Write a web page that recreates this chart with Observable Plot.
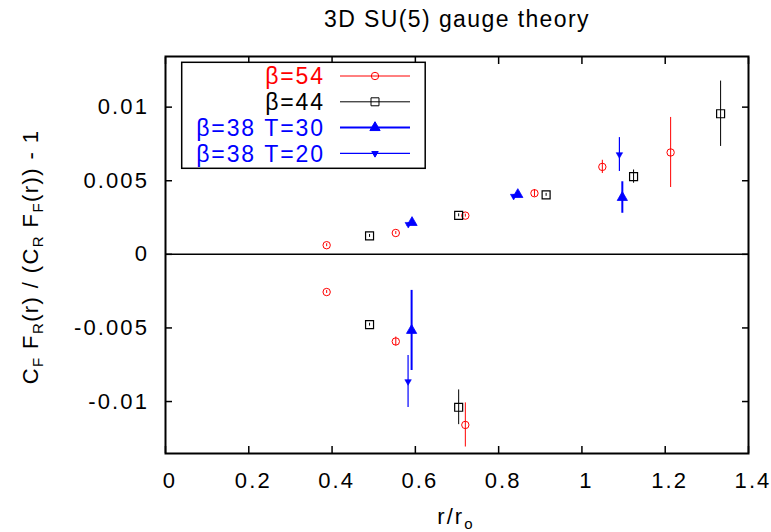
<!DOCTYPE html>
<html>
<head>
<meta charset="utf-8">
<script src="https://cdn.jsdelivr.net/npm/d3@7"></script>
<script src="https://cdn.jsdelivr.net/npm/@observablehq/plot@0.6"></script>
<style>
  body { margin: 0; background: #fff; }
  #chart { position: relative; width: 771px; height: 532px; }
  #chart svg text { letter-spacing: 2.1px; }
</style>
</head>
<body>
<div id="chart"></div>
<script>
// ---- data ----
const title = "3D SU(5) gauge theory";

const b54X   = [0.387, 0.553, 0.720, 0.886, 1.049, 1.213, 0.387, 0.553, 0.720];
const b54Y   = [0.00062, 0.00145, 0.00263, 0.00415, 0.00594, 0.00692, -0.00256, -0.00592, -0.01159];
const b54Err = [0.0001, 0.0001, 0.0001, 0.00025, 0.00045, 0.00238, 0.0001, 0.0003, 0.0015];

const b44X   = [0.490, 0.704, 0.914, 1.124, 1.333, 0.490, 0.704];
const b44Y   = [0.00125, 0.00265, 0.00404, 0.00528, 0.00955, -0.00478, -0.01039];
const b44Err = [0.0001, 0.0001, 0.0001, 0.00045, 0.00222, 0.0001, 0.00118];

const b38t30X   = [0.592, 0.846, 1.097, 0.591];
const b38t30Y   = [0.00216, 0.00406, 0.00386, -0.00517];
const b38t30Err = [0.0001, 0.0001, 0.00107, 0.00272];

const b38t20X   = [0.583, 0.836, 1.090, 0.5825];
const b38t20Y   = [0.00204, 0.00395, 0.00678, -0.00864];
const b38t20Err = [0.0001, 0.0001, 0.00115, 0.00176];

const xTicks = [0, 0.2, 0.4, 0.6, 0.8, 1, 1.2, 1.4];
const xTickLabels = ["0", "0.2", "0.4", "0.6", "0.8", "1", "1.2", "1.4"];
const yTicks = [-0.01, -0.005, 0, 0.005, 0.01];
const yTickLabels = ["-0.01", "-0.005", "0", "0.005", "0.01"];

const legendLabels = ["\u03b2=54", "\u03b2=44", "\u03b2=38 T=30", "\u03b2=38 T=20"];
const legendColors = ["#ff0000", "#000000", "#0000ff", "#0000ff"];

// ---- build ----
const rows = (xs, ys, es) => xs.map((x, i) => ({x, y: ys[i], e: es[i]}));
const d54 = rows(b54X, b54Y, b54Err);
const d44 = rows(b44X, b44Y, b44Err);
const d30 = rows(b38t30X, b38t30Y, b38t30Err);
const d20 = rows(b38t20X, b38t20Y, b38t20Err);

const sqrt3 = Math.sqrt(3);
const triangleDown = {
  draw(context, size) {
    const y = -Math.sqrt(size / (sqrt3 * 3));
    context.moveTo(0, -y * 2);
    context.lineTo(-sqrt3 * y, y);
    context.lineTo(sqrt3 * y, y);
    context.closePath();
  }
};

const fmtX = d => xTickLabels[xTicks.indexOf(d)];
const fmtY = d => yTickLabels[yTicks.findIndex(t => Math.abs(t - d) < 1e-9)];

const errBars = (data, color, w) => Plot.ruleX(data, {
  x: "x", y1: d => d.y - d.e, y2: d => d.y + d.e, stroke: color, strokeWidth: w
});

const chart = Plot.plot({
  width: 771,
  height: 532,
  marginLeft: 165,
  marginRight: 23,
  marginTop: 56,
  marginBottom: 79,
  style: {fontFamily: "'Liberation Sans', Arial, sans-serif", fontSize: "22px", background: "#fff", color: "#000"},
  x: {domain: [0, 1.4]},
  y: {domain: [-0.01353, 0.01344]},
  marks: [
    Plot.ruleY([0], {stroke: "#000", strokeWidth: 1.5}),
    errBars(d54, "#ff0000", 1),
    errBars(d44, "#000000", 1),
    errBars(d30, "#0000ff", 2),
    errBars(d20, "#0000ff", 1.2),
    Plot.dot(d54, {x: "x", y: "y", symbol: "circle", r: 3.7, stroke: "#ff0000", strokeWidth: 1, fill: "none"}),
    Plot.dot(d44, {x: "x", y: "y", symbol: "square", r: 4.5, stroke: "#000", strokeWidth: 1.2, fill: "none"}),
    Plot.dot(d30, {x: "x", y: "y", symbol: "triangle", r: 3.8, fill: "#0000ff", stroke: "#0000ff", strokeWidth: 0.8}),
    Plot.dot(d20, {x: "x", y: "y", symbol: triangleDown, r: 2.4, fill: "#0000ff", stroke: "#0000ff", strokeWidth: 0.6}),
    // bottom ticks (inward) and separately offset labels
    Plot.axisX({anchor: "bottom", ticks: xTicks, tickSize: -7, strokeWidth: 1.5, fill: "none", label: null}),
    Plot.axisX({anchor: "bottom", ticks: xTicks, tickFormat: fmtX, tickSize: 0, tickPadding: 18.4, dx: 4.5, stroke: "none", label: null}),
    Plot.axisX({anchor: "top", ticks: xTicks, tickSize: -7, strokeWidth: 1.5, fill: "none", label: null}),
    Plot.axisY({anchor: "left", ticks: yTicks, tickFormat: fmtY, tickSize: -7, tickPadding: 23.5, strokeWidth: 1.5, label: null}),
    Plot.axisY({anchor: "right", ticks: yTicks, tickSize: -7, strokeWidth: 1.5, fill: "none", label: null}),
    Plot.frame({stroke: "#000", strokeWidth: 2}),
    Plot.text([title], {frameAnchor: "top", dy: -30, fontSize: 23, lineAnchor: "bottom"})
  ]
});

document.getElementById("chart").appendChild(chart);

// title letter spacing a bit tighter
d3.select(chart).selectAll("text").filter(function () { return this.textContent === title; })
  .style("letter-spacing", "1.4px");

// ---- axis labels with subscripts ----
const svg = d3.select(chart);
const ff = "'Liberation Sans', Arial, sans-serif";

function addRich(sel, parts) {
  let shifted = false;
  parts.forEach(([t, sub]) => {
    const ts = sel.append("tspan").text(t);
    if (sub) {
      ts.attr("font-size", 15).attr("dy", 4.5);
      shifted = true;
    } else if (shifted) {
      ts.attr("dy", -4.5);
      shifted = false;
    }
  });
}

const xl = svg.append("text")
  .attr("x", 456).attr("y", 524)
  .attr("text-anchor", "middle").attr("font-family", ff).attr("font-size", 22).attr("fill", "#000");
addRich(xl, [["r/r", false], ["o", true]]);

const yl = svg.append("text")
  .attr("transform", "translate(38,257) rotate(-90)")
  .attr("text-anchor", "middle").attr("font-family", ff).attr("font-size", 22).attr("fill", "#000")
  .style("letter-spacing", "1.4px");
addRich(yl, [["C", false], ["F", true], [" F", false], ["R", true], ["(r) / (C", false], ["R", true], [" F", false], ["F", true], ["(r)) - 1", false]]);

// ---- legend ----
const lg = svg.append("g");
lg.append("rect").attr("x", 181.7).attr("y", 62.3).attr("width", 243.5).attr("height", 106)
  .attr("fill", "#fff").attr("stroke", "#000").attr("stroke-width", 1.5);
const legendSymbols = [d3.symbolCircle, d3.symbolSquare, d3.symbolTriangle, triangleDown];
const legendSizes = [Math.PI * 3.7 * 3.7, Math.PI * 4.5 * 4.5, Math.PI * 3.8 * 3.8, Math.PI * 2.4 * 2.4];
const legendLineW = [1, 1, 2, 1.2];
const legendFilled = [false, false, true, true];
legendLabels.forEach((lab, i) => {
  const cy = 76 + i * 25.8;
  lg.append("text").attr("x", 325).attr("y", cy + 8.3).attr("text-anchor", "end")
    .attr("font-family", ff).attr("font-size", 23).attr("fill", legendColors[i])
    .style("letter-spacing", "1.9px").text(lab);
  lg.append("line").attr("x1", 340).attr("x2", 410).attr("y1", cy).attr("y2", cy)
    .attr("stroke", legendColors[i]).attr("stroke-width", legendLineW[i]);
  lg.append("path").attr("transform", `translate(375,${cy})`)
    .attr("d", d3.symbol(legendSymbols[i], legendSizes[i])())
    .attr("fill", legendFilled[i] ? legendColors[i] : "none")
    .attr("stroke", legendColors[i]).attr("stroke-width", 1);
});
</script>
</body>
</html>
